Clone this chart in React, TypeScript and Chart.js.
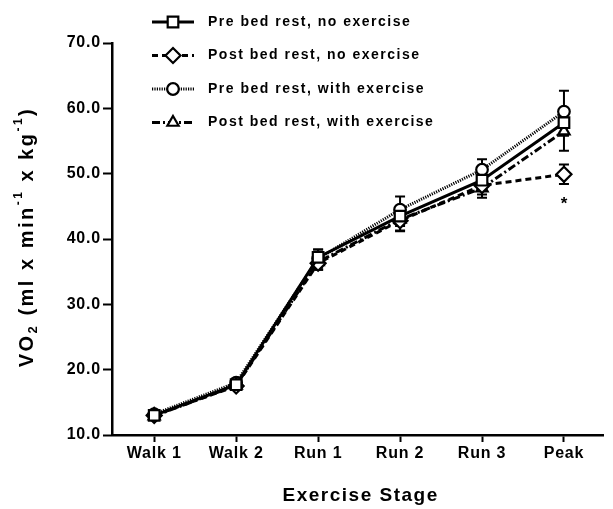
import React, { useEffect, useRef } from "react";
import { Chart, registerables } from "chart.js";
import { drawPoint } from "chart.js/helpers";

Chart.register(...registerables);

const stages = ["Walk 1", "Walk 2", "Run 1", "Run 2", "Run 3", "Peak"];

const preNoEx = [13.0, 17.7, 37.2, 43.5, 49.0, 57.8];
const postNoEx = [13.0, 17.5, 36.3, 42.8, 48.2, 49.9];
const preWithEx = [13.2, 18.0, 37.0, 44.5, 50.6, 59.5];
const postWithEx = [12.9, 17.6, 36.5, 43.0, 47.8, 56.5];

const preNoExErr = [0.5, 0.6, 1.2, 1.5, 1.3, 2.0];
const postNoExErr = [0.5, 0.6, 1.0, 1.5, 1.4, 1.5];
const preWithExErr = [0.5, 0.6, 1.4, 2.0, 1.6, 3.2];
const postWithExErr = [0.5, 0.6, 1.2, 1.8, 1.5, 3.0];

const postNoExSig = ["", "", "", "", "", "*"];

const seriesLabels = [
  "Pre bed rest, no exercise",
  "Post bed rest, no exercise",
  "Pre bed rest, with exercise",
  "Post bed rest, with exercise",
];

const yMin = 10;
const yMax = 70;
const yStep = 10;

const FONT = "'Liberation Sans', Arial, Helvetica, sans-serif";

export default function App() {
  const ref = useRef<HTMLCanvasElement | null>(null);

  useEffect(() => {
    const canvas = ref.current;
    if (!canvas) return;

    const styles = [
      { pointStyle: "rect", radius: 7.5, dash: [] as number[] },
      { pointStyle: "rectRot", radius: 7.5, dash: [6, 4] },
      { pointStyle: "circle", radius: 5.8, dash: [1.2, 1.2] },
      { pointStyle: "triangle", radius: 6.5, dash: [8, 3, 2, 3] },
    ];
    const values = [preNoEx, postNoEx, preWithEx, postWithEx];
    const errs = [preNoExErr, postNoExErr, preWithExErr, postWithExErr];
    const sigs = [null, postNoExSig, null, null];

    const datasets = values.map((vals, d) => ({
      label: seriesLabels[d],
      data: vals.map((v, i) => ({ x: i + 1, y: v })),
      borderColor: "#000",
      backgroundColor: "#fff",
      borderWidth: 3,
      borderDash: styles[d].dash,
      pointStyle: styles[d].pointStyle as any,
      pointRadius: styles[d].radius,
      pointBorderWidth: 2.2,
      pointBackgroundColor: "#fff",
      pointBorderColor: "#000",
      tension: 0,
      fill: false,
    }));

    const spacing = {
      id: "spacing",
      beforeUpdate(chart: any) {
        chart.ctx.letterSpacing = "0.8px";
      },
      beforeDraw(chart: any) {
        chart.ctx.letterSpacing = "0.8px";
      },
    };

    const errorBars = {
      id: "errorBars",
      beforeDatasetsDraw(chart: any) {
        const ctx = chart.ctx;
        const ys = chart.scales.y;
        ctx.save();
        ctx.strokeStyle = "#000";
        ctx.lineWidth = 2;
        ctx.setLineDash([]);
        values.forEach((vals, d) => {
          const meta = chart.getDatasetMeta(d);
          vals.forEach((v, i) => {
            const e = errs[d][i];
            const x = meta.data[i].x;
            const top = ys.getPixelForValue(v + e);
            const bot = ys.getPixelForValue(v - e);
            ctx.beginPath();
            ctx.moveTo(x, top);
            ctx.lineTo(x, bot);
            ctx.moveTo(x - 5, top);
            ctx.lineTo(x + 5, top);
            ctx.moveTo(x - 5, bot);
            ctx.lineTo(x + 5, bot);
            ctx.stroke();
          });
        });
        ctx.restore();
      },
      afterDatasetsDraw(chart: any) {
        const ctx = chart.ctx;
        const ys = chart.scales.y;
        ctx.save();
        ctx.fillStyle = "#000";
        ctx.font = `bold 17px ${FONT}`;
        ctx.textAlign = "center";
        ctx.textBaseline = "middle";
        ctx.letterSpacing = "0px";
        sigs.forEach((s, d) => {
          if (!s) return;
          const meta = chart.getDatasetMeta(d);
          s.forEach((mark, i) => {
            if (!mark) return;
            const x = meta.data[i].x;
            const y = ys.getPixelForValue(values[d][i] - errs[d][i]) + 20;
            ctx.fillText(mark, x, y);
          });
        });
        ctx.restore();
      },
    };

    const decorations = {
      id: "decorations",
      afterDraw(chart: any) {
        const ctx = chart.ctx;
        const area = chart.chartArea;
        ctx.save();
        ctx.fillStyle = "#000";
        ctx.letterSpacing = "1.5px";

        // x title
        ctx.font = `bold 19px ${FONT}`;
        ctx.textAlign = "center";
        ctx.textBaseline = "middle";
        ctx.fillText("Exercise Stage", (area.left + area.right) / 2 + 3, 496);

        // y title with sub/superscripts
        ctx.letterSpacing = "2.5px";
        (ctx as any).wordSpacing = "6px";
        const parts = [
          { t: "VO", size: 20, dy: 0 },
          { t: "2", size: 13, dy: 6 },
          { t: " (ml x min", size: 20, dy: 0 },
          { t: "-1", size: 12, dy: -8 },
          { t: " x kg", size: 20, dy: 0 },
          { t: "-1", size: 12, dy: -8 },
          { t: ")", size: 20, dy: 0 },
        ];
        let total = 0;
        parts.forEach((p) => {
          ctx.font = `bold ${p.size}px ${FONT}`;
          total += ctx.measureText(p.t).width;
        });
        ctx.translate(27, (area.top + area.bottom) / 2 - 2);
        ctx.rotate(-Math.PI / 2);
        ctx.textAlign = "left";
        let cx = -total / 2;
        parts.forEach((p) => {
          ctx.font = `bold ${p.size}px ${FONT}`;
          ctx.fillText(p.t, cx, p.dy);
          cx += ctx.measureText(p.t).width;
        });
        ctx.restore();

        // legend
        ctx.save();
        const rows = [22, 55.5, 89, 122.5];
        const x0 = 152;
        const x1 = 194;
        datasets.forEach((ds, d) => {
          const y = rows[d];
          ctx.strokeStyle = "#000";
          ctx.lineWidth = 3;
          ctx.setLineDash(ds.borderDash);
          ctx.beginPath();
          ctx.moveTo(x0, y);
          ctx.lineTo(x1, y);
          ctx.stroke();
          ctx.setLineDash([]);
          ctx.fillStyle = "#fff";
          ctx.lineWidth = 2.2;
          drawPoint(ctx, { pointStyle: ds.pointStyle, radius: ds.pointRadius, rotation: 0, borderWidth: 2.2 } as any, (x0 + x1) / 2, y);
          ctx.fillStyle = "#000";
          ctx.font = `bold 14px ${FONT}`;
          ctx.letterSpacing = "1.5px";
          ctx.textAlign = "left";
          ctx.textBaseline = "middle";
          ctx.fillText(ds.label, 208, y);
        });
        ctx.restore();
      },
    };

    const chart = new Chart(canvas, {
      type: "line",
      data: { datasets: datasets as any },
      options: {
        responsive: false,
        animation: false,
        layout: { padding: { top: 43, right: 0, left: 0, bottom: 0 } },
        plugins: { legend: { display: false }, tooltip: { enabled: false } },
        scales: {
          x: {
            type: "linear",
            min: 0.485,
            max: 6.48,
            afterBuildTicks: (scale: any) => {
              scale.ticks = stages.map((_, i) => ({ value: i + 1 }));
            },
            afterFit: (scale: any) => {
              scale.height = 74;
            },
            ticks: {
              color: "#000",
              font: { family: FONT, size: 16, weight: "bold" },
              padding: 2,
              autoSkip: false,
              maxRotation: 0,
              callback: (v: any) => stages[Math.round(v) - 1] ?? "",
            },
            grid: {
              drawOnChartArea: false,
              drawTicks: true,
              tickLength: 7,
              tickWidth: 2,
              tickColor: "#000",
            },
            border: { display: true, color: "#000", width: 2.5 },
          },
          y: {
            min: yMin,
            max: yMax,
            afterFit: (scale: any) => {
              scale.width = 112;
            },
            ticks: {
              stepSize: yStep,
              color: "#000",
              font: { family: FONT, size: 16, weight: "bold" },
              padding: 2,
              callback: (v: any) => Number(v).toFixed(1),
            },
            grid: {
              drawOnChartArea: false,
              drawTicks: true,
              tickLength: 9,
              tickWidth: 2,
              tickColor: "#000",
            },
            border: { display: true, color: "#000", width: 2.5 },
          },
        },
      },
      plugins: [spacing, errorBars, decorations],
    });

    return () => chart.destroy();
  }, []);

  return (
    <div style={{ position: "absolute", left: 0, top: 0, width: 613, height: 509, background: "#fff" }}>
      <canvas ref={ref} width={613} height={509} style={{ display: "block" }} />
    </div>
  );
}
